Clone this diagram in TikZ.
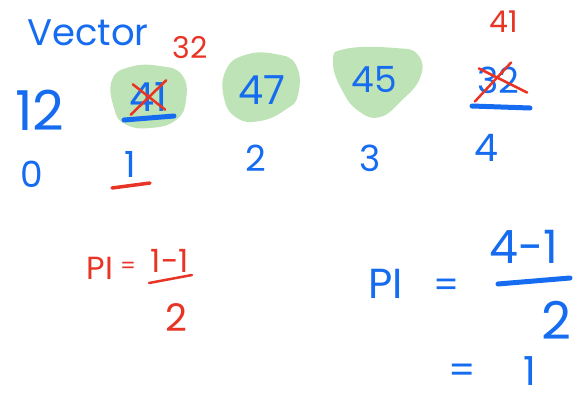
\documentclass[tikz,border=0pt]{standalone}
\usepackage{fontspec}
\setmainfont{Poppins}
\usetikzlibrary{calc}
\definecolor{inkblue}{RGB}{22,108,240}
\definecolor{inkred}{RGB}{232,52,36}
\definecolor{blobgreen}{RGB}{190,227,182}
\tikzset{
  bt/.style={text=inkblue, inner sep=0pt, font=\fontsize{#1}{#1}\selectfont},
  rt/.style={text=inkred, inner sep=0pt, font=\fontsize{#1}{#1}\selectfont},
  bpen/.style={draw=inkblue, line width=5pt, line cap=round},
  rpen/.style={draw=inkred, line width=2.5pt, line cap=round},
  blob/.style={fill=blobgreen, draw=none}
}
\begin{document}
\begin{tikzpicture}[x=1pt,y=-1pt]
\useasboundingbox (0,0) rectangle (580,402);
% green blobs
\fill[blob] plot[smooth cycle, tension=0.8] coordinates {(112,80) (130,67) (160,66) (182,75) (186,100) (176,120) (150,128) (125,124) (114,108)};
\fill[blob] plot[smooth cycle, tension=0.8] coordinates {(226,70) (245,55) (275,54) (296,65) (298,95) (285,110) (260,121) (237,118) (224,98)};
\fill[blob] plot[smooth cycle, tension=0.8] coordinates {(333,62) (345,49) (395,48) (418,55) (420,78) (400,102) (380,117) (360,112) (343,92)};
% title
\node[bt=37] (title) at (88,33) {Vector};
% values
\node[bt=55] (v0) at (40,110) {12};
\node[bt=40] (v1) at (148,97) {41};
\node[bt=40] (v2) at (262,90) {47};
\node[bt=36] (v3) at (374,80) {45};
\node[bt=36] (v4) at (498,80) {32};
% red replacements
\node[rt=30] (r1) at (190,48) {32};
\node[rt=30] (r4) at (504,22) {41};
% crosses
\draw[rpen] ($(v1.south west)+(2,3)$) -- ($(v1.north east)+(-1,-2)$);
\draw[rpen] ($(v1.north west)+(4,2)$) -- ($(v1.south east)+(-2,-2)$);
\draw[rpen] ($(v4.south west)+(-2,8)$) -- ($(v4.north east)+(-8,-4)$);
\draw[rpen] ($(v4.north west)+(2,2)$) -- ($(v4.south east)+(8,-1)$);
% underlines under values
\draw[bpen] (124,120) -- (174,116);
\draw[bpen] (472,106) -- (530,108);
% indices
\node[bt=36] (i0) at (32,174) {0};
\node[bt=36] (i1) at (130,164) {1};
\node[bt=36] (i2) at (256,158) {2};
\node[bt=36] (i3) at (370,158) {3};
\node[bt=38] (i4) at (486,148) {4};
\draw[rpen, line width=3.5pt] (112,188) -- (150,183);
% red formula
\node[rt=32] (rpi) at (100,268) {PI};
\node[rt=22] (req) at (128,268) {=};
\node[rt=32] (rnum) at (170,261) {1-1};
\draw[rpen] (149,283) -- (192,275);
\node[rt=38] (rden) at (176,318) {2};
% blue formula
\node[bt=42] (bpi) at (386,284) {PI};
\node[bt=36] (beq) at (447,288) {=};
\node[bt=46] (bnum) at (524,247) {4-1};
\draw[bpen] (498,284) -- (570,278);
\node[bt=52] (bden) at (556,320) {2};
\node[bt=38] (beq2) at (462,374) {=};
\node[bt=40] (bres) at (530,371) {1};
\end{tikzpicture}
\end{document}
